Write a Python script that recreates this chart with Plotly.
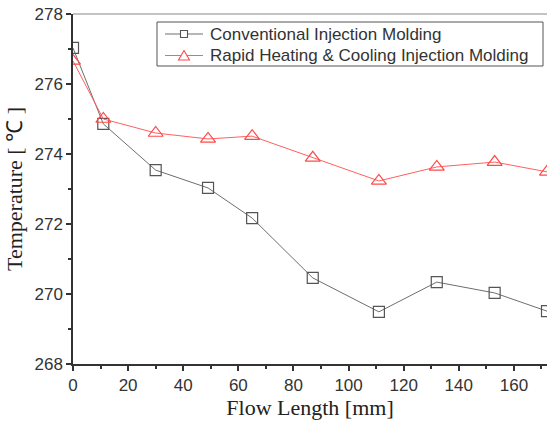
import plotly.graph_objects as go

flow_length = [0, 11, 30, 49, 65, 87, 111, 132, 153, 172]
conventional = [277.03, 274.86, 273.54, 273.03, 272.17, 270.46, 269.49, 270.34, 270.03, 269.51]
rapid = [276.66, 275.0, 274.6, 274.43, 274.51, 273.89, 273.23, 273.63, 273.77, 273.49]
series_names = ["Conventional Injection Molding", "Rapid Heating & Cooling Injection Molding"]

GRAY_LINE = "#6e6e6e"
GRAY_MARK = "#555555"
RED_LINE = "#ff6060"
RED_MARK = "#ff4a4a"

fig = go.Figure()
fig.add_trace(go.Scatter(
    x=flow_length, y=conventional, mode="lines+markers", name=series_names[0],
    line=dict(color=GRAY_LINE, width=1),
    marker=dict(symbol="square-open", size=11, color=GRAY_MARK, line=dict(width=1.2)),
))
fig.add_trace(go.Scatter(
    x=flow_length, y=rapid, mode="lines+markers", name=series_names[1],
    line=dict(color=RED_LINE, width=1),
    marker=dict(symbol="triangle-up-open", size=13, color=RED_MARK, line=dict(width=1.2)),
))

# plot area in pixels: left 73, right 547, top 14, bottom 364
L, R, T, B = 73, 547, 14, 364
def px(x):
    return (x - L) / (R - L)
def py(y):
    return (B - y) / (B - T)

shapes = []
annotations = []
# legend box
shapes.append(dict(type="rect", xref="paper", yref="paper", x0=px(157), x1=px(543), y0=py(66), y1=py(22),
                   line=dict(color=GRAY_MARK, width=1), fillcolor="white", layer="above"))
rows = [(34, GRAY_LINE, GRAY_MARK, "square"), (55.5, RED_LINE, RED_MARK, "triangle")]
for (yc, lc, mc, kind), name in zip(rows, series_names):
    shapes.append(dict(type="line", xref="paper", yref="paper", x0=px(165), x1=px(203), y0=py(yc), y1=py(yc),
                       line=dict(color=lc, width=1), layer="above"))
    if kind == "square":
        shapes.append(dict(type="rect", xref="paper", yref="paper", x0=px(180.5), x1=px(187.5),
                           y0=py(yc + 3.5), y1=py(yc - 3.5), line=dict(color=mc, width=1.1),
                           fillcolor="white", layer="above"))
    else:
        path = "M {} {} L {} {} L {} {} Z".format(px(178.5), py(yc + 4.5), px(189.5), py(yc + 4.5), px(184), py(yc - 5))
        shapes.append(dict(type="path", xref="paper", yref="paper", path=path,
                           line=dict(color=mc, width=1.1), fillcolor="white", layer="above"))
    annotations.append(dict(xref="paper", yref="paper", x=px(208), y=py(yc), xanchor="left", yanchor="middle",
                            text=name, showarrow=False,
                            font=dict(family="Liberation Sans, Arial", size=17, color="#333333")))

# top frame line
shapes.append(dict(type="line", xref="paper", yref="paper", x0=0, x1=1, y0=1, y1=1,
                   line=dict(color="#888888", width=1.2)))

fig.update_layout(
    width=547, height=421,
    margin=dict(l=L, r=0, t=T, b=421 - B, autoexpand=False),
    paper_bgcolor="white", plot_bgcolor="white",
    font=dict(family="Liberation Sans, Arial", size=17, color="#333333"),
    showlegend=False,
    shapes=shapes, annotations=annotations,
)
fig.update_xaxes(
    range=[0, 172], tickmode="array", tickvals=[0, 20, 40, 60, 80, 100, 120, 140, 160],
    ticks="outside", ticklen=5, tickwidth=1.5, tickcolor="#333333", automargin=False,
    minor=dict(tickvals=[10, 30, 50, 70, 90, 110, 130, 150, 170], ticks="outside", ticklen=3, tickwidth=1.5, tickcolor="#333333"),
    showline=True, linecolor="#333333", linewidth=1.5, mirror=False,
    showgrid=False, zeroline=False,
    title=dict(text="Flow Length [mm]", font=dict(family="Liberation Serif, Times New Roman", size=22, color="#222222"), standoff=2),
)
fig.update_yaxes(
    range=[268, 278], tickmode="array", tickvals=[268, 270, 272, 274, 276, 278],
    ticks="outside", ticklen=5, tickwidth=1.5, tickcolor="#333333", automargin=False,
    minor=dict(tickvals=[269, 271, 273, 275, 277], ticks="outside", ticklen=3, tickwidth=1.5, tickcolor="#333333"),
    showline=True, linecolor="#333333", linewidth=1.5,
    showgrid=False, zeroline=False,
    title=dict(text="Temperature [ ℃ ]", font=dict(family="Liberation Serif, Times New Roman", size=22, color="#222222"), standoff=6),
)

fig.write_html("out.html", config={"displayModeBar": False},
               post_script="document.body.style.margin='0';document.body.style.padding='0';")
